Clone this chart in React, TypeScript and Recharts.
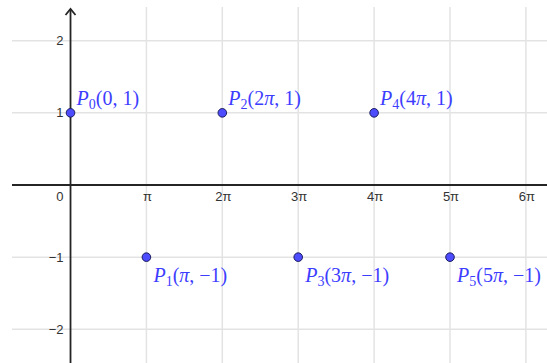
import React from 'react';
import { ReferenceLine, Scatter, ScatterChart, XAxis, YAxis } from 'recharts';

// x values are in multiples of π
const pointX = [0, 1, 2, 3, 4, 5];
const pointY = [1, -1, 1, -1, 1, -1];
const pointXText = ['0', 'π', '2π', '3π', '4π', '5π'];

const xTickValues = [1, 2, 3, 4, 5, 6];
const xTickLabels = ['π', '2π', '3π', '4π', '5π', '6π'];
const yTickValues = [2, 1, -1, -2];
const yTickLabels = ['2', '1', '−1', '−2'];

const W = 547;
const H = 363;
const AXIS = '#252525';
const GRID = '#e3e3e3';
const BLUE = '#3d3dff';
const TICK = '#333333';

const points = pointX.map((x, i) => ({ x, y: pointY[i], xt: pointXText[i], idx: i }));
const xTicks = xTickValues.map((x, i) => ({ x, y: 0, label: xTickLabels[i] }));
const yTicks = yTickValues.map((y, i) => ({ x: 0, y, label: yTickLabels[i] }));
const originTick = [{ x: 0, y: 0, label: '0' }];

function mathParts(s: string, keyBase: string) {
  return s.split('').map((ch, k) => (
    <tspan key={keyBase + k} fontStyle={ch === 'π' ? 'italic' : 'normal'}>{ch}</tspan>
  ));
}

function PointShape(props: any) {
  const { cx, cy, payload } = props;
  const above = payload.y > 0;
  const tx = cx + (above ? 6 : 7);
  const ty = above ? cy - 8 : cy + 25;
  const yText = payload.y < 0 ? '−1' : '1';
  return (
    <g>
      <circle cx={cx} cy={cy} r={4.3} fill="#4d4dff" stroke="#1c1c5c" strokeWidth={1} />
      <text x={tx} y={ty} fill={BLUE} fontFamily="'Liberation Serif', serif" fontSize={20}>
        <tspan fontStyle="italic">P</tspan>
        <tspan fontSize={14} dy={4}>{payload.idx}</tspan>
        <tspan dy={-4}>(</tspan>
        {mathParts(payload.xt, 'x')}
        <tspan>, </tspan>
        <tspan>{yText}</tspan>
        <tspan>)</tspan>
      </text>
    </g>
  );
}

function XTickShape(props: any) {
  const { cx, cy, payload } = props;
  return (
    <text x={cx + 1} y={cy + 16} textAnchor="middle" fill={TICK} fontFamily="'Liberation Sans', Arial, sans-serif" fontSize={13}>
      {payload.label}
    </text>
  );
}

function YTickShape(props: any) {
  const { cx, cy, payload } = props;
  return (
    <text x={cx - 7} y={cy + 4.5} textAnchor="end" fill={TICK} fontFamily="'Liberation Sans', Arial, sans-serif" fontSize={13}>
      {payload.label}
    </text>
  );
}

function OriginShape(props: any) {
  const { cx, cy, payload } = props;
  return (
    <text x={cx - 7} y={cy + 16} textAnchor="end" fill={TICK} fontFamily="'Liberation Sans', Arial, sans-serif" fontSize={13}>
      {payload.label}
    </text>
  );
}

function YAxisArrow(props: any) {
  const { x1, y1, x2, y2 } = props;
  const top = Math.min(y1, y2) + 2;
  const bottom = Math.max(y1, y2);
  return (
    <g>
      <line x1={x1} y1={top} x2={x2} y2={bottom} stroke={AXIS} strokeWidth={1.8} />
      <polyline points={`${x1 - 5},${top + 6} ${x1},${top} ${x1 + 5},${top + 6}`} fill="none" stroke={AXIS} strokeWidth={1.8} />
    </g>
  );
}

export default function App() {
  return (
    <div style={{ position: 'absolute', left: 0, top: 0, width: W, height: H, background: '#fff' }}>
      <ScatterChart width={W} height={H} margin={{ top: 7, right: 0, bottom: 0, left: 12 }}>
        <XAxis type="number" dataKey="x" domain={[-0.771, 6.278]} allowDataOverflow hide />
        <YAxis type="number" dataKey="y" domain={[-2.467, 2.467]} allowDataOverflow hide />
        {xTickValues.map((v) => (
          <ReferenceLine key={'gx' + v} x={v} stroke={GRID} strokeWidth={1.5} />
        ))}
        {yTickValues.map((v) => (
          <ReferenceLine key={'gy' + v} y={v} stroke={GRID} strokeWidth={1.5} />
        ))}
        <ReferenceLine y={0} stroke={AXIS} strokeWidth={1.8} />
        <ReferenceLine x={0} stroke={AXIS} strokeWidth={1.8} shape={YAxisArrow} />
        <Scatter data={xTicks} shape={XTickShape} isAnimationActive={false} />
        <Scatter data={yTicks} shape={YTickShape} isAnimationActive={false} />
        <Scatter data={originTick} shape={OriginShape} isAnimationActive={false} />
        <Scatter data={points} shape={PointShape} isAnimationActive={false} />
      </ScatterChart>
    </div>
  );
}
